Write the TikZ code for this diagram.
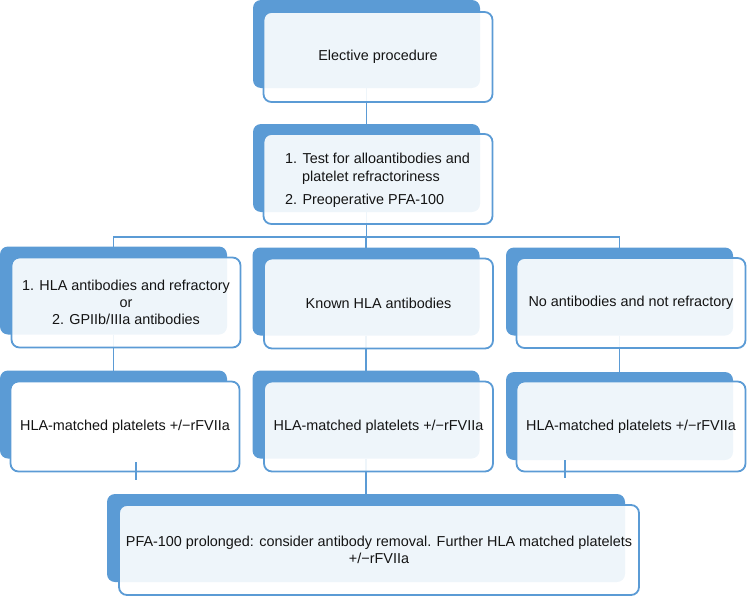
\documentclass[tikz,border=0pt]{standalone}
\usepackage{fontspec}
\setmainfont{Liberation Sans}
\definecolor{bblue}{RGB}{91,155,213}
\definecolor{ink}{RGB}{20,20,20}
\begin{document}
\begin{tikzpicture}[x=1pt,y=-1pt,
  back/.style={fill=bblue, draw=none, rounded corners=8pt, inner sep=0pt, outer sep=0pt,
    minimum width=227pt, minimum height=88pt},
  front/.style={draw=bblue, line width=1.8pt, fill=white, fill opacity=0.9, text opacity=1,
    rounded corners=8pt, inner sep=0pt, outer sep=0pt, align=center, text=ink,
    font=\fontsize{14.4}{17.3}\selectfont, minimum width=229pt, minimum height=90pt},
  txt/.style={text=ink, font=\fontsize{14.4}{17.3}\selectfont, inner sep=0pt},
  conn/.style={draw=bblue, line width=1.2pt}]
\useasboundingbox (0,0) rectangle (747,597);
% back plates
\node[back] (Ab) at (366.5,44) {};
\node[back] (Bb) at (366.5,168) {};
\node[back] (L3b) at (113.5,290.5) {};
\node[back] (M3b) at (366,291.5) {};
\node[back] (R3b) at (619.5,291.5) {};
\node[back] (L4b) at (113.5,414.5) {};
\node[back] (M4b) at (366,414.5) {};
\node[back] (R4b) at (619.5,416) {};
\node[back, minimum width=518pt] (Botb) at (366,538) {};
% connectors
\coordinate (busC) at (366.5,237);
\draw[conn] (Ab.south) -- (Bb.north);
\draw[conn] (Bb.south) -- (busC);
\draw[conn] (L3b.north) -- (L3b.north |- busC) -- (R3b.north |- busC) -- (R3b.north);
\draw[conn] (M3b.north) -- (M3b.north |- busC);
\draw[conn] (L3b.south) -- (L4b.north);
\draw[conn] (M3b.south) -- (M4b.north);
\draw[conn] (R3b.south) -- (R4b.north);
\draw[conn] (M4b.south) -- (M4b.south |- Botb.north);
% front boxes
\node[front] (A) at (378,57) {Elective procedure};
\node[front] (B) at (378,179) {};
\node[front] (L3) at (126,302.5) {1. HLA antibodies and refractory\\or\\2. GPIIb/IIIa antibodies};
\node[front] (M3) at (378.5,303.5) {Known HLA antibodies};
\node[front] (R3) at (631,303) {No antibodies and not refractory};
\node[front, fill opacity=1] (L4) at (125,426.5) {HLA-matched platelets +/−rFVIIa};
\node[front] (M4) at (378.5,426.5) {HLA-matched platelets +/−rFVIIa};
\node[front] (R4) at (631,426.5) {HLA-matched platelets +/−rFVIIa};
\node[front, minimum width=520pt] (Bot) at (379,550) {PFA-100 prolonged: consider antibody removal. Further HLA matched platelets\\+/−rFVIIa};
% list text in box B
\node[txt, anchor=base west] (B1) at (285,163) {1. Test for alloantibodies and};
\node[txt, anchor=base west] (B2) at (302,181) {platelet refractoriness};
\node[txt, anchor=base west] (B3) at (285,204) {2. Preoperative PFA-100};
% stubs below row 4
\coordinate (sL1) at (136,462); \coordinate (sL2) at (136,480);
\coordinate (sR1) at (565,460); \coordinate (sR2) at (565,478);
\draw[conn] (sL1) -- (sL2);
\draw[conn] (sR1) -- (sR2);
\end{tikzpicture}
\end{document}
